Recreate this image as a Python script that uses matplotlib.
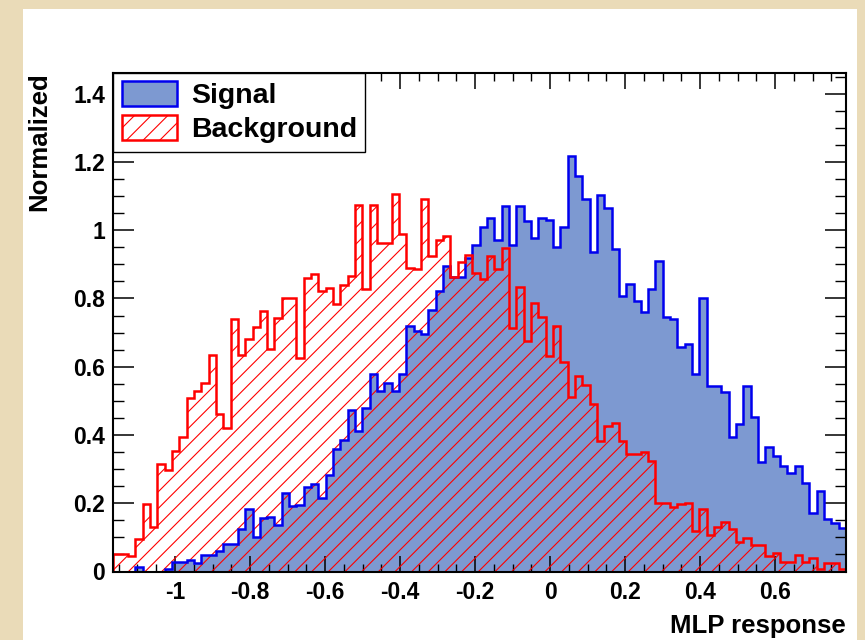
import numpy as np
import matplotlib
matplotlib.use("Agg")
import matplotlib.pyplot as plt
from matplotlib.patches import Rectangle, Patch
from matplotlib.ticker import MultipleLocator, FuncFormatter

# ---------------- data ----------------
x_min, x_max = -1.1645, 0.789
n_bins = 100

signal = [0.000, 0.000, 0.000, 0.014, 0.000, 0.000, 0.000, 0.007, 0.029, 0.029,
          0.035, 0.026, 0.048, 0.048, 0.061, 0.081, 0.081, 0.124, 0.182, 0.102,
          0.156, 0.161, 0.136, 0.229, 0.191, 0.196, 0.249, 0.256, 0.215, 0.283,
          0.358, 0.386, 0.472, 0.413, 0.480, 0.579, 0.529, 0.552, 0.529, 0.579,
          0.720, 0.706, 0.695, 0.767, 0.821, 0.896, 0.862, 0.862, 0.920, 0.956,
          1.009, 1.036, 0.972, 1.070, 0.957, 1.070, 1.026, 0.977, 1.036, 1.031,
          0.951, 1.010, 1.218, 1.159, 1.091, 0.936, 1.104, 1.065, 0.945, 0.808,
          0.842, 0.794, 0.760, 0.828, 0.909, 0.747, 0.741, 0.659, 0.667, 0.579,
          0.801, 0.545, 0.545, 0.527, 0.393, 0.433, 0.545, 0.454, 0.322, 0.366,
          0.338, 0.308, 0.288, 0.310, 0.259, 0.172, 0.236, 0.155, 0.141, 0.128]

background = [0.051, 0.051, 0.045, 0.094, 0.198, 0.131, 0.315, 0.296, 0.353, 0.393,
              0.508, 0.530, 0.552, 0.635, 0.461, 0.420, 0.740, 0.634, 0.682, 0.716,
              0.763, 0.651, 0.742, 0.801, 0.801, 0.627, 0.860, 0.871, 0.821, 0.831,
              0.784, 0.840, 0.865, 1.075, 0.827, 1.075, 0.963, 0.963, 1.105, 0.988,
              0.890, 0.885, 1.091, 0.924, 0.972, 0.984, 0.863, 0.907, 0.928, 0.874,
              0.857, 0.925, 0.887, 0.948, 0.713, 0.833, 0.674, 0.786, 0.747, 0.631,
              0.718, 0.615, 0.512, 0.572, 0.547, 0.492, 0.381, 0.425, 0.436, 0.381,
              0.345, 0.345, 0.349, 0.325, 0.202, 0.202, 0.188, 0.198, 0.200, 0.120,
              0.182, 0.107, 0.129, 0.146, 0.124, 0.086, 0.098, 0.078, 0.078, 0.044,
              0.053, 0.028, 0.027, 0.049, 0.027, 0.039, 0.008, 0.026, 0.026, 0.007]

series_labels = ["Signal", "Background"]
x_label = "MLP response"
y_label = "Normalized"

# ---------------- style ----------------
plt.rcParams["font.family"] = ["Liberation Sans", "DejaVu Sans"]
plt.rcParams["font.weight"] = "bold"
plt.rcParams["hatch.linewidth"] = 0.8

sig_fill = "#7d99d1"
sig_line = "#0000ee"
bkg_col = "#ff0000"

edges = np.linspace(x_min, x_max, n_bins + 1)

fig = plt.figure(figsize=(8.65, 6.4), dpi=100)
fig.patch.set_facecolor("#EADBB8")
fig.add_artist(Rectangle((23 / 865, 0), (857 - 23) / 865, (640 - 9) / 640,
                         transform=fig.transFigure, facecolor="white",
                         edgecolor="none", zorder=0))

ax = fig.add_axes([113.3 / 865, 68.5 / 640, (846 - 113.3) / 865, (571.5 - 72.7) / 640])
ax.set_facecolor("white")

ax.stairs(signal, edges, fill=True, facecolor=sig_fill, edgecolor="none", zorder=1)
ax.stairs(background, edges, fill=True, facecolor="none", edgecolor=bkg_col,
          hatch="//", linewidth=0, zorder=2)
ax.stairs(signal, edges, color=sig_line, linewidth=1.8, baseline=0, zorder=3)
ax.stairs(background, edges, color=bkg_col, linewidth=1.8, baseline=0, zorder=4)

ax.set_xlim(x_min, x_max)
ax.set_ylim(0, 1.2 * max(signal))


def fmt(v, pos):
    v = round(v, 3)
    if abs(v) < 1e-9:
        return "0"
    return f"{v:g}"


ax.xaxis.set_major_locator(MultipleLocator(0.2))
ax.xaxis.set_minor_locator(MultipleLocator(0.05))
ax.yaxis.set_major_locator(MultipleLocator(0.2))
ax.yaxis.set_minor_locator(MultipleLocator(0.05))
ax.xaxis.set_major_formatter(FuncFormatter(fmt))
ax.yaxis.set_major_formatter(FuncFormatter(fmt))

ax.tick_params(axis="x", which="major", direction="in", length=11.5, width=1.1,
               top=True, labelsize=16.5, pad=7)
ax.tick_params(axis="x", which="minor", direction="in", length=5.8, width=1.0, top=True)
ax.tick_params(axis="y", which="major", direction="in", length=15, width=1.1,
               right=True, labelsize=16.5, pad=6)
ax.tick_params(axis="y", which="minor", direction="in", length=8, width=1.0, right=True)
for sp in ax.spines.values():
    sp.set_linewidth(1.5)
    sp.set_zorder(6)

ax.set_xlabel(x_label, fontsize=18.5, fontweight="bold", loc="right")
ax.xaxis.set_label_coords(1.0, -0.086)
ax.set_ylabel(y_label, fontsize=18.5, fontweight="bold", loc="top")
ax.yaxis.set_label_coords(-0.085, 1.0)

handles = [Patch(facecolor=sig_fill, edgecolor=sig_line, linewidth=1.8, label=series_labels[0]),
           Patch(facecolor="white", edgecolor=bkg_col, hatch="//", linewidth=1.8,
                 label=series_labels[1])]
leg = ax.legend(handles=handles, loc="upper left", bbox_to_anchor=(0, 1),
                borderaxespad=0, fontsize=20.5, frameon=True, fancybox=False,
                edgecolor="black", framealpha=1, handlelength=1.95,
                handleheight=0.95, handletextpad=0.47, borderpad=0.3,
                labelspacing=0.2)
leg.get_frame().set_linewidth(1.0)
leg.set_zorder(10)

fig.savefig("out.png", dpi=100, facecolor=fig.get_facecolor())
